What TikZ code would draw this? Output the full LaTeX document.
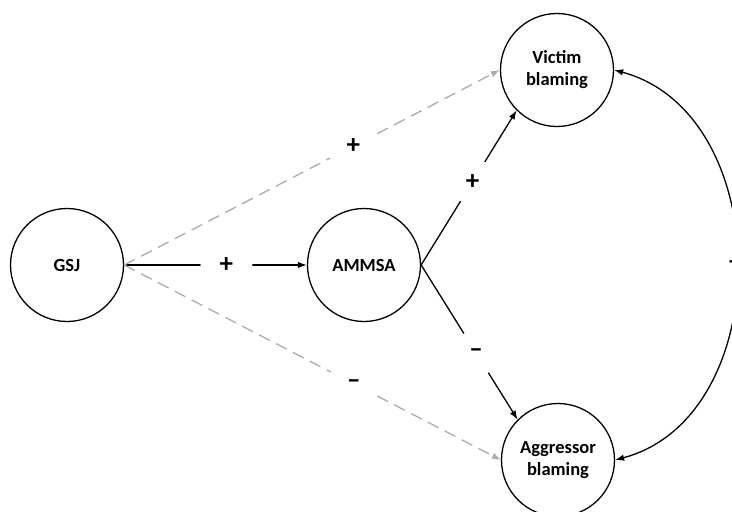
\documentclass[tikz,border=0pt]{standalone}
\usepackage{fontspec}
\setmainfont{Carlito}
\usetikzlibrary{arrows.meta}
\begin{document}
\begin{tikzpicture}[x=1pt,y=-1pt,
  var/.style={circle,draw,line width=1.3pt,minimum size=113pt,inner sep=0pt,align=center,
    font=\fontsize{18.5}{22}\selectfont\bfseries},
  sol/.style={line width=1.3pt,-{Latex[length=9pt,width=6.5pt]}},
  dsh/.style={line width=1.3pt,color=black!33,dash pattern=on 12pt off 7pt,-{Latex[length=9pt,width=6.5pt]}},
  lab/.style={circle,fill=white,inner sep=0pt,minimum size=52pt,
    font=\fontsize{27}{30}\selectfont\bfseries,text=black}]
\useasboundingbox (0,0) rectangle (732,512);
\node[var] (G) at (67,265) {GSJ};
\node[var] (M) at (364,265) {AMMSA};
\node[var] (V) at (557,70) {Victim\\blaming};
\node[var] (A) at (558,460) {Aggressor\\blaming};
\draw[sol] (G.east) -- node[lab,pos=0.56]{+} (M.west);
\draw[dsh] (G.east) -- node[lab,pos=0.61]{+} (V.west);
\draw[dsh] (G.east) -- node[lab,pos=0.61]{–} (A.west);
\draw[sol] (M.east) -- node[lab,pos=0.54,minimum size=46pt]{+} (V.south west);
\draw[sol] (M.east) -- node[lab,pos=0.57,minimum size=46pt]{–} (A.north west);
\draw[line width=1.3pt,{Latex[length=9pt,width=6.5pt]}-{Latex[length=9pt,width=6.5pt]}]
  (V.east) to[out=-15,in=15,looseness=1.1]
  node[midway,xshift=-2pt,fill=white,inner sep=0pt,minimum width=14pt,minimum height=64pt,
    font=\fontsize{27}{30}\selectfont\bfseries]{–} (A.east);
\end{tikzpicture}
\end{document}
